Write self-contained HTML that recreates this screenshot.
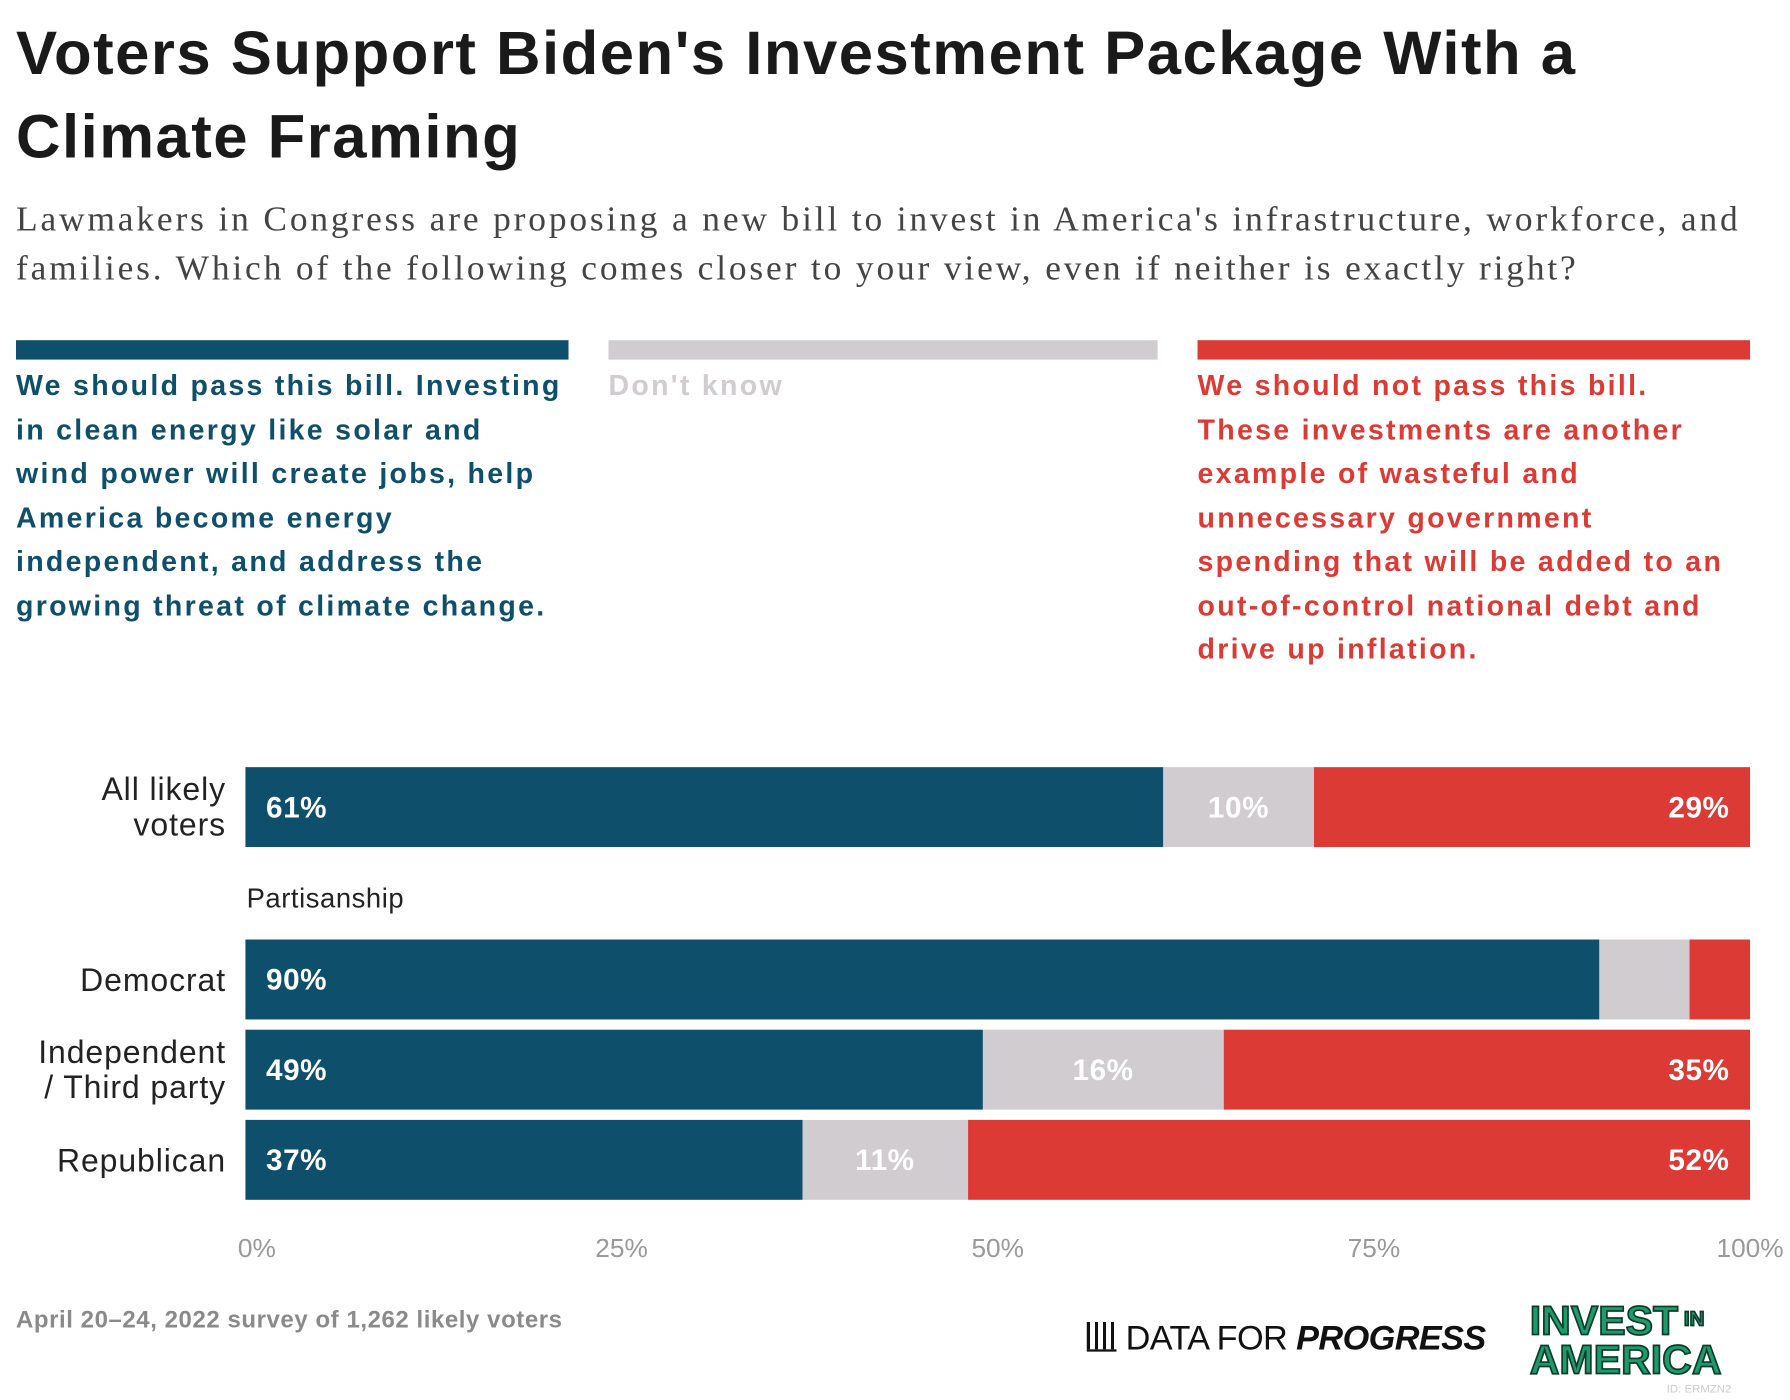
<!DOCTYPE html>
<html><head><meta charset="utf-8"><style>
html,body{margin:0;padding:0;background:#fff;}
#root{position:absolute;left:0;top:0;width:1568px;height:1226px;transform:scale(1.14158);transform-origin:0 0;font-family:"Liberation Sans",sans-serif;overflow:hidden}
.abs{position:absolute}
h1{position:absolute;left:14px;top:11px;margin:0;font-size:54px;line-height:73px;font-weight:bold;color:#1a1a1a;letter-spacing:1.3px;width:1560px;white-space:nowrap}
.sub{position:absolute;left:14px;top:170px;font-family:"Liberation Serif",serif;font-size:31px;line-height:43px;color:#444;width:1560px;white-space:nowrap;letter-spacing:2.5px}
.lg{position:absolute;font-size:25px;line-height:38.5px;font-weight:bold;top:319px;width:540px;white-space:nowrap;letter-spacing:2px}
.tick{position:absolute;top:1080px;font-size:23px;color:#999;transform:translateX(-50%)}
.rowlab{position:absolute;text-align:right;font-size:28px;line-height:31px;color:#222;letter-spacing:0.8px;white-space:nowrap}
.val{position:absolute;font-size:26px;font-weight:bold;color:#fff;line-height:70px;letter-spacing:0.5px}
</style></head><body>
<div id="root">
<h1>Voters Support Biden's Investment Package With a<br>Climate Framing</h1>
<div class="sub">Lawmakers in Congress are proposing a new bill to invest in America's infrastructure, workforce, and<br>families. Which of the following comes closer to your view, even if neither is exactly right?</div>

<div class="abs" style="left:14px;top:298px;width:484px;height:17px;background:#0e4f6b"></div>
<div class="abs" style="left:533px;top:298px;width:481px;height:17px;background:#d0ccd0"></div>
<div class="abs" style="left:1049px;top:298px;width:484px;height:17px;background:#dc3a35"></div>
<div class="lg" style="left:14px;color:#0e4f6b">We should pass this bill. Investing<br>in clean energy like solar and<br>wind power will create jobs, help<br>America become energy<br>independent, and address the<br>growing threat of climate change.</div>
<div class="lg" style="left:533px;color:#d0ccd0">Don't know</div>
<div class="lg" style="left:1049px;color:#dc3a35">We should not pass this bill.<br>These investments are another<br>example of wasteful and<br>unnecessary government<br>spending that will be added to an<br>out-of-control national debt and<br>drive up inflation.</div>

<div class="abs" style="left:216px;top:774px;font-size:24px;color:#222;letter-spacing:0.5px">Partisanship</div>

<div class="abs" style="left:14px;top:1145px;font-size:21px;font-weight:bold;color:#8a8a8a;letter-spacing:0.5px">April 20–24, 2022 survey of 1,262 likely voters</div>

<div class="abs" style="left:952px;top:1156px;font-size:30px;color:#111;white-space:nowrap;letter-spacing:-0.5px"><span style="display:inline-block;width:26px;height:24px;border-bottom:2px solid #111;background:linear-gradient(90deg,#111 0 3px,transparent 3px 7px,#111 7px 10px,transparent 10px 14px,#111 14px 17px,transparent 17px 21px,#111 21px 24px,transparent 24px);margin-right:8px;vertical-align:-2px"></span>DATA FOR <b style="font-style:italic">PROGRESS</b></div>
<div class="abs" style="left:1340px;top:1138px;font-size:36px;line-height:34px;font-weight:900;color:#1f9a6a;-webkit-text-stroke:1.5px #0d3b2c;letter-spacing:0px;white-space:nowrap">INVEST<span style="font-size:18px;vertical-align:8px"> IN</span><br>AMERICA</div>
<div class="abs" style="left:1460px;top:1212px;font-size:10px;color:#ccc">ID: ERMZN2</div>
</div>
<script>
const categories = ["All likely voters","Democrat","Independent / Third party","Republican"];
const passVals = [61,90,49,37];
const dkVals = [10,6,16,11];
const notVals = [29,4,35,52];
const showLabels = [true,false,true,true];
const tickVals = [0,25,50,75,100];
const tickLabels = ["0%","25%","50%","75%","100%"];
const rowTops = [672,823,902,981];
const rowLabelHtml = ["All likely<br>voters","Democrat","Independent<br>/ Third party","Republican"];

const X0 = 215, W = 1318, H = 70;
function x(v){ return X0 + v / 100 * W; }
const root = document.getElementById('root');
const colors = ["#0e4f6b","#d0ccd0","#dc3a35"];
const names = ["pass","dont-know","not-pass"];

categories.forEach((c,i)=>{
  const total = passVals[i]+dkVals[i]+notVals[i];
  const vals = [passVals[i],dkVals[i],notVals[i]].map(v=>v/total*100);
  const raw = [passVals[i],dkVals[i],notVals[i]];
  let acc = 0;
  vals.forEach((v,j)=>{
    const b = document.createElement('div');
    b.className='abs';
    
    
    b.style.left = x(acc)+'px'; b.style.width = (x(acc+v)-x(acc))+'px';
    b.style.top = rowTops[i]+'px'; b.style.height = H+'px';
    b.style.background = colors[j];
    root.appendChild(b);
    if (showLabels[i] || j===0) {
      const t = document.createElement('div');
      t.className='val';
      
      
      t.textContent = raw[j]+'%';
      t.style.top = rowTops[i]+'px';
      if (j===0) t.style.left = (x(acc)+18)+'px';
      else if (j===1) { t.style.left = ((x(acc)+x(acc+v))/2)+'px'; t.style.transform='translateX(-50%)'; }
      else { t.style.left = (x(acc+v)-18)+'px'; t.style.transform='translateX(-100%)'; }
      root.appendChild(t);
    }
    acc += v;
  });
  const l = document.createElement('div');
  l.className='rowlab';
  
  
  l.innerHTML = rowLabelHtml[i];
  l.style.right = (1568-198)+'px';
  const lines = rowLabelHtml[i].split('<br>').length;
  l.style.top = (rowTops[i] + H/2 - lines*31/2)+'px';
  root.appendChild(l);
});
tickVals.forEach((v,i)=>{
  const t = document.createElement('div');
  t.className='tick';
  
  
  t.textContent = tickLabels[i];
  t.style.left = (x(v) + (i===0?10:0))+'px';
  root.appendChild(t);
});
</script>
</body></html>
